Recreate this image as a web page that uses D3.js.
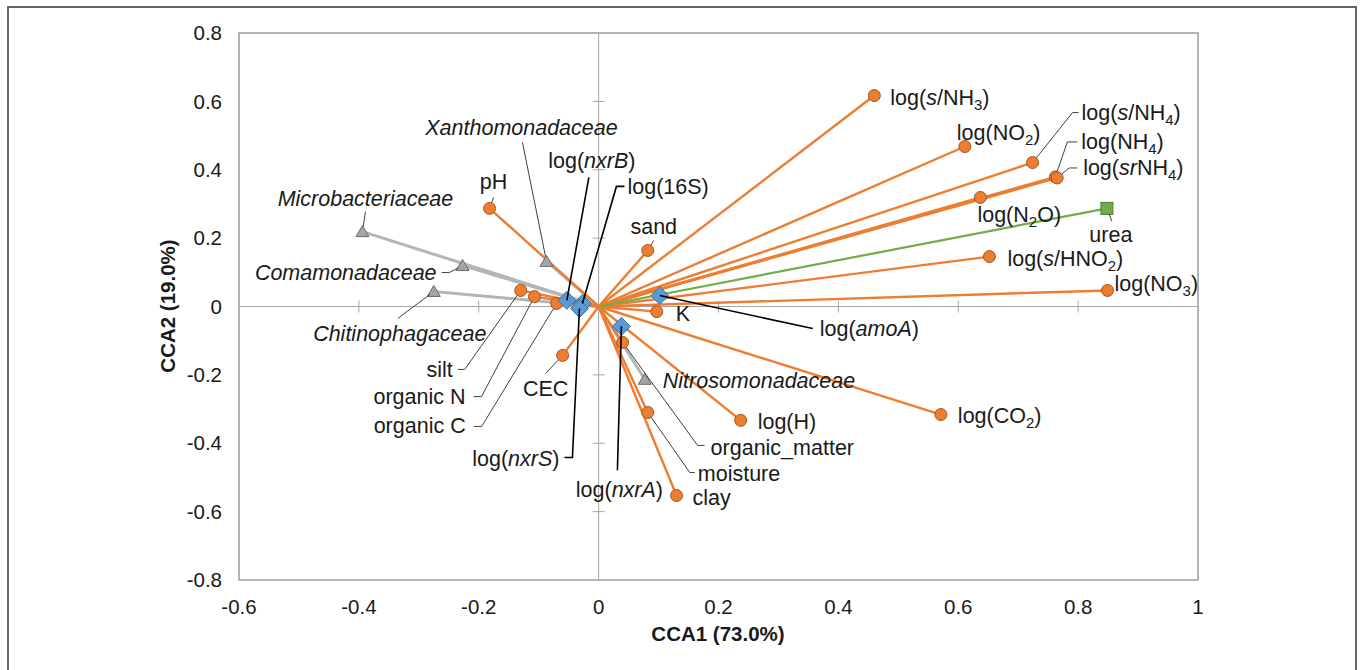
<!DOCTYPE html>
<html>
<head>
<meta charset="utf-8">
<title>CCA biplot</title>
<script src="https://cdn.jsdelivr.net/npm/d3@7"></script>
<style>
  html,body{margin:0;padding:0;background:#fff}
  svg{display:block;font-family:"Liberation Sans",Arial,sans-serif}
  .tick-label{font-size:20.5px;fill:#1a1a1a}
  .axis-title{font-size:20.5px;font-weight:bold;fill:#1a1a1a}
  .lbl{font-size:21.5px;fill:#1a1a1a}
</style>
</head>
<body>
<svg id="chart" width="1360" height="670"></svg>
<script>
// ---- data ----
const envNames = ['log(<i>s</i>/NH<sub>3</sub>)','log(NO<sub>2</sub>)','log(<i>s</i>/NH<sub>4</sub>)','log(NH<sub>4</sub>)',
  'log(<i>sr</i>NH<sub>4</sub>)','log(N<sub>2</sub>O)','log(<i>s</i>/HNO<sub>2</sub>)','log(NO<sub>3</sub>)','log(CO<sub>2</sub>)',
  'log(H)','clay','moisture','organic_matter','K','sand','pH','CEC','silt','organic N','organic C'];
const envX = [0.460,0.611,0.724,0.762,0.765,0.637,0.652,0.849,0.571,0.237,0.130,0.082,0.040,0.097,0.082,-0.182,-0.060,-0.130,-0.107,-0.070];
const envY = [0.617,0.468,0.421,0.379,0.376,0.319,0.146,0.047,-0.316,-0.333,-0.553,-0.310,-0.105,-0.015,0.164,0.287,-0.143,0.047,0.029,0.009];

const famNames = ['<i>Microbacteriaceae</i>','<i>Comamonadaceae</i>','<i>Chitinophagaceae</i>','<i>Xanthomonadaceae</i>','<i>Nitrosomonadaceae</i>'];
const famX = [-0.394,-0.227,-0.275,-0.087,0.077];
const famY = [0.219,0.120,0.044,0.132,-0.213];

const geneNames = ['log(<i>nxrB</i>)','log(16S)','log(<i>nxrS</i>)','log(<i>amoA</i>)','log(<i>nxrA</i>)'];
const geneX = [-0.053,-0.027,-0.032,0.102,0.038];
const geneY = [0.018,0.009,-0.006,0.032,-0.058];

const treatNames = ['urea'];
const treatX = [0.848];
const treatY = [0.287];

const xTicks = [-0.6,-0.4,-0.2,0,0.2,0.4,0.6,0.8,1];
const yTicks = [-0.8,-0.6,-0.4,-0.2,0,0.2,0.4,0.6,0.8];

// ---- label layout: pixel offsets from the marker (text anchor point, leader bends) ----
const layout = {
  'log(<i>s</i>/NH<sub>3</sub>)': {a:'start', dx:16, dy:2},
  'log(NO<sub>2</sub>)': {a:'start', dx:-8, dy:-14},
  'log(<i>s</i>/NH<sub>4</sub>)': {a:'start', dx:49, dy:-50, L:[[40,-50],[46,-50]]},
  'log(NH<sub>4</sub>)': {a:'start', dx:26, dy:-35, L:[[12,-35],[22,-35]]},
  'log(<i>sr</i>NH<sub>4</sub>)': {a:'start', dx:26, dy:-10, L:[[12,-10],[20,-10]]},
  'log(N<sub>2</sub>O)': {a:'start', dx:-3, dy:17},
  'log(<i>s</i>/HNO<sub>2</sub>)': {a:'start', dx:18, dy:2},
  'log(NO<sub>3</sub>)': {a:'start', dx:7, dy:-7},
  'log(CO<sub>2</sub>)': {a:'start', dx:17, dy:1},
  'log(H)': {a:'start', dx:17, dy:1},
  'clay': {a:'start', dx:16, dy:2},
  'moisture': {a:'start', dx:50, dy:61, L:[[42,60],[47,60]]},
  'organic_matter': {a:'start', dx:88, dy:105, L:[[75,103],[82,103]]},
  'K': {a:'start', dx:19, dy:2},
  'sand': {a:'middle', dx:6, dy:-24, L:[[6,-10]]},
  'pH': {a:'middle', dx:4, dy:-27, L:[[4,-11]]},
  'CEC': {a:'middle', dx:-17, dy:33, L:[[-17,18]]},
  'silt': {a:'end', dx:-68, dy:79, L:[[-56,79],[-63,79]]},
  'organic N': {a:'end', dx:-69, dy:100, L:[[-53,100],[-61,100]]},
  'organic C': {a:'end', dx:-91, dy:122, L:[[-75,123],[-83,123]]},
  '<i>Microbacteriaceae</i>': {a:'middle', dx:3, dy:-33, L:[[3,-20]]},
  '<i>Comamonadaceae</i>': {a:'end', dx:-26, dy:7, L:[[-13,7],[-21,7]]},
  '<i>Chitinophagaceae</i>': {a:'middle', dx:-34, dy:42, L:[[-36,27]]},
  '<i>Xanthomonadaceae</i>': {a:'middle', dx:-25, dy:-134, L:[[-24,-119]]},
  '<i>Nitrosomonadaceae</i>': {a:'start', dx:18, dy:1},
  'log(<i>nxrB</i>)': {a:'middle', dx:25, dy:-140, L:[[22,-123]], gene:true},
  'log(16S)': {a:'start', dx:45, dy:-117, L:[[34,-117],[42,-117]], gene:true},
  'log(<i>nxrS</i>)': {a:'end', dx:-20, dy:150, L:[[-7,149],[-15,149]], gene:true},
  'log(<i>amoA</i>)': {a:'start', dx:160, dy:33, L:[[153,33]], gene:true},
  'log(<i>nxrA</i>)': {a:'middle', dx:-2, dy:163, L:[[-4,144]], gene:true},
  'urea': {a:'middle', dx:4, dy:26, L:[[5,13]]}
};

// ---- chart ----
const svg = d3.select('#chart');
const W = 1360, H = 670;
const m = {left:239, right:1198, top:33, bottom:580};

const x = d3.scaleLinear().domain([-0.6,1]).range([m.left, m.right]);
const y = d3.scaleLinear().domain([-0.8,0.8]).range([m.bottom, m.top]);

// outer frame
svg.append('rect').attr('x',8).attr('y',7).attr('width',1348).attr('height',H+10)
  .attr('fill','none').attr('stroke','#666').attr('stroke-width',2);

// plot border
svg.append('rect').attr('x',m.left).attr('y',m.top)
  .attr('width',m.right-m.left).attr('height',m.bottom-m.top)
  .attr('fill','none').attr('stroke','#8c8c8c').attr('stroke-width',1.3);

// zero axes with cross ticks
const gAx = svg.append('g');
gAx.append('line').attr('x1',x(0)).attr('x2',x(0)).attr('y1',m.top).attr('y2',m.bottom)
  .attr('stroke','#a6a6a6').attr('stroke-width',1);
gAx.append('line').attr('x1',m.left).attr('x2',m.right).attr('y1',y(0)).attr('y2',y(0))
  .attr('stroke','#a6a6a6').attr('stroke-width',1);
gAx.selectAll('line.xt').data(xTicks.filter(d=>d!==0 && d!==-0.6 && d!==1)).join('line').attr('class','xt')
  .attr('x1',d=>x(d)).attr('x2',d=>x(d)).attr('y1',y(0)-6).attr('y2',y(0)+6)
  .attr('stroke','#a6a6a6');
gAx.selectAll('line.yt').data(yTicks.filter(d=>d!==0 && Math.abs(d)!==0.8)).join('line').attr('class','yt')
  .attr('x1',x(0)-6).attr('x2',x(0)+6).attr('y1',d=>y(d)).attr('y2',d=>y(d))
  .attr('stroke','#a6a6a6');

// tick labels
svg.append('g').selectAll('text').data(xTicks).join('text')
  .attr('class','tick-label').attr('x',d=>x(d)).attr('y',607).attr('dy','0.35em')
  .attr('text-anchor','middle').text(d=>+d.toFixed(1));
svg.append('g').selectAll('text').data(yTicks).join('text')
  .attr('class','tick-label').attr('x',222).attr('y',d=>y(d)).attr('dy','0.35em')
  .attr('text-anchor','end').text(d=>+d.toFixed(1));

// axis titles
svg.append('text').attr('class','axis-title').attr('x',718).attr('y',634).attr('dy','0.35em')
  .attr('text-anchor','middle').text('CCA1 (73.0%)');
svg.append('text').attr('class','axis-title')
  .attr('transform','translate(168,306) rotate(-90)').attr('dy','0.35em')
  .attr('text-anchor','middle').text('CCA2 (19.0%)');

// build point records
const pts = [];
envNames.forEach((n,i)=>pts.push({name:n, vx:envX[i], vy:envY[i], kind:'env'}));
famNames.forEach((n,i)=>pts.push({name:n, vx:famX[i], vy:famY[i], kind:'fam'}));
geneNames.forEach((n,i)=>pts.push({name:n, vx:geneX[i], vy:geneY[i], kind:'gene'}));
treatNames.forEach((n,i)=>pts.push({name:n, vx:treatX[i], vy:treatY[i], kind:'treat'}));

// vectors from origin
const vecStyle = {
  fam:{stroke:'#b5b5b5', w:3},
  env:{stroke:'#ED7D31', w:2.4},
  treat:{stroke:'#70AD47', w:2.2}
};
const gVec = svg.append('g');
['fam','env','treat'].forEach(k=>{
  gVec.selectAll('line.v'+k).data(pts.filter(p=>p.kind===k)).join('line').attr('class','v'+k)
    .attr('x1',x(0)).attr('y1',y(0)).attr('x2',d=>x(d.vx)).attr('y2',d=>y(d.vy))
    .attr('stroke',vecStyle[k].stroke).attr('stroke-width',vecStyle[k].w);
});

// markers
const gM = svg.append('g');
const diamond = 'M0,-9L9,0L0,9L-9,0Z';
const tri = 'M0,-6L6.5,5L-6.5,5Z';
pts.forEach(p=>{
  const g = gM.append('g').attr('transform',`translate(${x(p.vx)},${y(p.vy)})`);
  if(p.kind==='env') g.append('circle').attr('r',6).attr('fill','#ED7D31').attr('stroke','#a4561f').attr('stroke-width',1);
  if(p.kind==='fam') g.append('path').attr('d',tri).attr('fill','#a5a5a5').attr('stroke','#6b6b6b').attr('stroke-width',1);
  if(p.kind==='gene') g.append('path').attr('d',diamond).attr('fill','#5B9BD5').attr('stroke','#41719C').attr('stroke-width',1);
  if(p.kind==='treat') g.append('rect').attr('x',-6).attr('y',-6).attr('width',12).attr('height',12)
    .attr('fill','#70AD47').attr('stroke','#4e7a31').attr('stroke-width',1);
});

// leaders
const gL = svg.append('g');
const rad = {env:6, fam:5, gene:7, treat:6};
pts.forEach(p=>{
  const L = layout[p.name];
  if(!L || !L.L) return;
  const px = x(p.vx), py = y(p.vy);
  const f = L.L[0], len = Math.hypot(f[0],f[1]);
  const r = L.gene ? 0 : rad[p.kind];
  const pp = [[px+f[0]/len*r, py+f[1]/len*r]].concat(L.L.map(o=>[px+o[0], py+o[1]]));
  gL.append('path').attr('d',d3.line()(pp)).attr('fill','none')
    .attr('stroke', L.gene ? '#000' : '#404040')
    .attr('stroke-width', L.gene ? 1.6 : 1);
});

// labels with simple <i>/<sub> markup
function richText(sel, s){
  const re = /<(i|sub)>(.*?)<\/\1>/g;
  let last = 0, mt, shifted = false;
  const add = (txt, tag)=>{
    if(!txt) return;
    const t = sel.append('tspan').text(txt);
    if(tag==='i') t.attr('font-style','italic');
    if(tag==='sub'){ t.attr('font-size','15px').attr('dy',5); shifted = true; }
    else if(shifted){ t.attr('dy',-5); shifted = false; }
  };
  while((mt = re.exec(s))){ add(s.slice(last, mt.index)); add(mt[2], mt[1]); last = re.lastIndex; }
  add(s.slice(last));
}
const gT = svg.append('g');
pts.forEach(p=>{
  const L = layout[p.name];
  const t = gT.append('text').attr('class','lbl')
    .attr('x', x(p.vx)+L.dx).attr('y', y(p.vy)+L.dy+7.5)
    .attr('text-anchor', L.a);
  richText(t, p.name);
});
</script>
</body>
</html>
